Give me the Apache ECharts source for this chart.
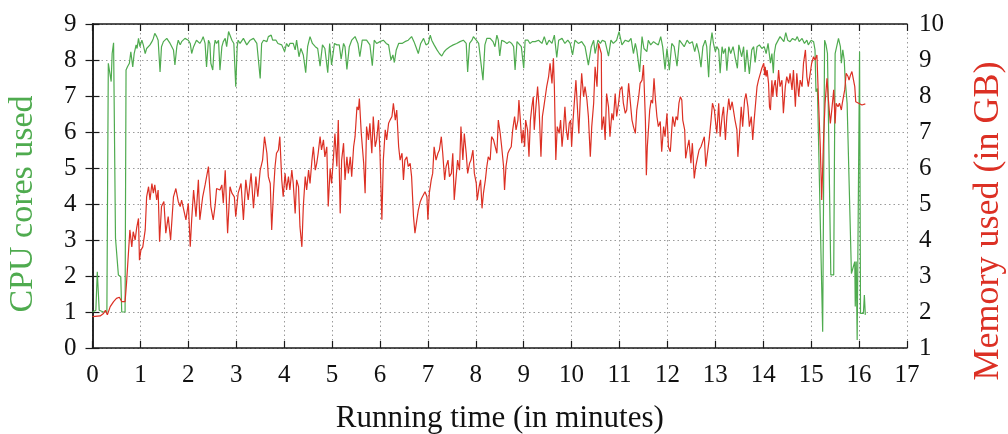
<!DOCTYPE html>
<html>
<head>
<meta charset="utf-8">
<script src="https://cdn.jsdelivr.net/npm/echarts@6/dist/echarts.min.js"></script>
<style>
html,body{margin:0;padding:0;background:#fff;}
#chart{width:1008px;height:434px;}
</style>
</head>
<body>
<div id="chart"></div>
<script>
// Axis ticks
const xTicks = [0,1,2,3,4,5,6,7,8,9,10,11,12,13,14,15,16,17];
const cpuTicks = [0,1,2,3,4,5,6,7,8,9];
const memTicks = [1,2,3,4,5,6,7,8,9,10];

// CPU cores used: [minutes, cores]
const cpuSamples = [
[0,1.0],[0.02,1.0],[0.07,1.05],[0.10,2.12],[0.12,2.12],[0.14,1.05],[0.23,1.0],[0.30,1.0],[0.33,7.91],[0.37,7.91],[0.39,7.40],[0.41,8.18],[0.44,8.48],[0.48,3.05],[0.51,3.0],[0.54,2.03],[0.59,1.98],[0.61,1.0],[0.68,1.0],
[0.70,7.72],[0.73,7.81],[0.77,7.91],[0.80,8.23],[0.84,7.81],[0.87,8.18],[0.91,8.42],[0.93,8.32],[0.96,8.60],[0.99,8.37],[1.03,8.55],[1.06,8.42],[1.10,8.18],[1.13,8.32],[1.17,8.28],[1.20,8.42],[1.24,8.51],[1.27,8.60],[1.30,8.74],[1.34,8.65],[1.37,8.55],[1.41,7.67],[1.44,8.37],[1.48,8.51],[1.51,8.46],[1.55,8.60],[1.58,8.55],[1.62,8.46],[1.65,8.42],[1.69,8.28],[1.72,7.86],[1.76,8.37],[1.79,8.55],[1.83,8.42],[1.86,8.51],[1.90,8.51],[1.93,8.60],[1.97,8.60],[2.00,8.55],[2.04,8.46],[2.07,8.18],[2.11,8.37],[2.14,8.46],[2.17,8.55],[2.21,8.51],[2.24,8.46],[2.28,8.55],[2.31,8.65],[2.35,8.46],[2.38,7.81],[2.42,8.55],[2.45,8.46],[2.47,7.91],[2.51,7.72],[2.54,8.37],[2.56,8.55],[2.59,8.46],[2.63,8.55],[2.66,7.72],[2.70,8.37],[2.73,8.51],[2.77,8.60],[2.80,8.37],[2.84,8.79],
[2.91,8.55],[2.95,8.46],[2.99,7.26],[3.02,8.37],[3.04,8.55],[3.08,8.46],[3.11,8.51],[3.15,8.60],[3.18,8.55],[3.22,8.42],[3.25,8.46],[3.29,8.55],[3.32,8.51],[3.36,8.60],[3.39,8.55],[3.43,8.46],[3.46,8.42],[3.50,7.49],[3.53,8.46],[3.57,8.55],[3.60,8.60],[3.64,8.51],[3.67,8.65],[3.73,8.69],[3.76,8.55],[3.80,8.51],[3.83,8.55],[3.87,8.46],[3.91,8.51],[3.95,8.42],[4.01,8.23],[4.05,8.46],[4.09,8.37],[4.12,8.46],[4.16,8.42],[4.19,8.46],[4.23,8.28],[4.26,8.55],[4.31,8.09],[4.35,8.32],[4.40,8.14],[4.45,7.65],[4.49,8.37],[4.54,8.65],[4.59,8.46],[4.65,8.37],[4.70,8.32],[4.75,7.83],[4.80,8.42],[4.85,8.32],[4.91,7.65],[4.95,8.46],[4.99,7.86],[5.05,8.46],[5.10,8.42],[5.15,8.42],[5.19,8.02],[5.24,8.46],[5.27,8.37],[5.31,7.74],[5.36,8.37],[5.41,8.55],[5.48,8.65],[5.54,8.46],[5.58,8.09],[5.63,8.55],
[5.72,8.55],[5.79,8.42],[5.84,7.84],[5.88,8.55],[5.93,8.46],[6.00,8.51],[6.07,8.55],[6.13,8.46],[6.18,8.42],[6.23,8.00],[6.27,8.14],[6.30,7.93],[6.34,8.28],[6.39,8.46],[6.46,8.46],[6.52,8.51],[6.59,8.55],[6.66,8.65],[6.71,8.51],[6.75,8.37],[6.80,8.18],[6.85,8.46],[6.91,8.60],[6.96,8.42],[7.01,8.46],[7.05,8.69],[7.08,8.55],[7.13,8.42],[7.19,8.28],[7.24,8.18],[7.29,8.11],[7.34,8.23],[7.39,8.30],[7.46,8.37],[7.53,8.42],[7.60,8.46],[7.67,8.51],[7.74,8.55],[7.80,8.46],[7.83,7.67],[7.87,8.46],[7.92,8.55],[7.95,8.65],[8.01,8.55],[8.06,8.46],[8.10,8.42],[8.15,7.44],[8.19,8.42],[8.23,8.60],[8.30,8.60],[8.36,8.51],[8.40,8.37],
[8.44,8.69],[8.47,8.55],[8.50,8.11],[8.54,8.55],[8.60,8.51],[8.65,8.46],[8.70,8.51],[8.75,8.46],[8.79,8.37],[8.82,7.72],[8.86,8.51],[8.90,8.55],[8.95,8.37],[9.00,7.77],[9.03,8.55],[9.09,8.55],[9.13,8.46],[9.18,8.51],[9.24,8.51],[9.31,8.55],[9.38,8.46],[9.43,8.65],[9.48,8.42],[9.53,8.55],[9.59,8.46],[9.64,8.69],[9.69,8.07],[9.73,8.55],[9.80,8.60],[9.86,8.46],[9.92,8.55],[9.97,8.46],[10.02,8.14],[10.07,8.55],[10.14,8.46],[10.21,8.51],[10.28,8.37],[10.35,7.86],[10.41,8.37],[10.46,8.55],[10.49,8.18],[10.55,8.55],[10.60,8.46],[10.64,8.55],[10.70,8.51],[10.77,8.11],[10.82,8.55],[10.87,8.46],[10.94,8.55],[10.99,8.79],[11.05,8.42],[11.12,8.55],[11.19,8.51],[11.24,8.60],[11.29,8.18],
[11.33,8.46],[11.36,8.28],[11.42,7.67],[11.47,8.65],[11.51,8.32],[11.57,8.23],[11.60,8.55],[11.65,8.42],[11.71,8.51],[11.76,8.46],[11.81,8.42],[11.86,8.65],[11.90,8.37],[11.95,7.74],[11.99,8.32],[12.04,7.72],[12.09,8.46],[12.14,8.37],[12.20,7.83],[12.25,8.55],[12.30,8.46],[12.35,8.37],[12.41,8.55],[12.46,8.46],[12.52,8.51],[12.57,8.23],[12.61,8.46],[12.66,8.18],[12.70,7.80],[12.74,8.37],[12.79,8.55],[12.82,8.37],[12.86,7.52],[12.89,8.37],[12.93,8.76],[12.96,8.46],[13.00,8.23],[13.03,8.37],[13.07,8.28],[13.10,7.63],[13.14,8.37],[13.17,8.18],[13.21,8.32],[13.24,7.70],[13.28,8.37],[13.32,8.18],[13.37,8.37],[13.41,8.09],[13.46,7.77],[13.49,8.42],[13.55,8.09],[13.59,8.37],[13.62,7.67],[13.66,8.28],[13.71,7.61],[13.76,8.28],[13.80,8.37],[13.83,7.93],[13.87,8.37],[13.92,8.42],[13.97,8.32],[14.02,8.37],
[14.06,8.18],[14.10,8.46],[14.12,8.42],[14.15,7.91],[14.18,8.18],[14.21,7.63],[14.23,8.18],[14.26,8.42],[14.30,8.46],[14.35,8.65],[14.39,8.60],[14.43,8.51],[14.47,8.76],[14.51,8.55],[14.56,8.51],[14.61,8.60],[14.67,8.55],[14.71,8.65],[14.75,8.51],[14.81,8.60],[14.86,8.46],[14.91,8.55],[14.94,8.42],[15.00,8.55],[15.05,8.51],[15.08,8.28],[15.10,7.12],[15.13,7.21],[15.24,0.45],[15.28,8.55],[15.31,8.42],[15.34,8.18],[15.41,2.03],[15.47,2.03],[15.50,8.18],[15.54,8.42],[15.57,8.60],[15.61,8.37],[15.63,7.91],[15.66,8.28],[15.69,8.00],[15.71,7.44],[15.75,6.80],[15.84,2.07],[15.88,2.07],[15.91,2.40],[15.92,1.15],[15.94,2.40],[15.96,0.22],[16.01,8.23],[16.03,0.96],[16.06,0.92],[16.09,0.96],[16.11,1.47],[16.13,0.92]
];

// Memory used (GB): [minutes, GB]
const memSamples = [
[0,1.87],[0.16,1.89],[0.23,1.96],[0.27,2.05],[0.31,1.92],[0.37,2.15],[0.44,2.29],[0.50,2.38],[0.56,2.41],[0.61,2.29],[0.68,2.29],[0.71,2.80],[0.75,3.63],[0.78,4.28],[0.82,3.81],[0.85,4.23],[0.89,4.00],[0.92,4.32],[0.96,4.60],[0.98,3.44],[1.01,3.72],[1.05,3.81],[1.10,4.28],[1.13,5.20],[1.17,5.48],[1.20,5.11],[1.24,5.57],[1.27,5.30],[1.30,5.53],[1.34,5.11],[1.37,5.39],[1.40,3.95],[1.44,4.93],[1.49,5.07],[1.53,4.19],[1.58,4.65],[1.63,4.00],[1.69,5.20],[1.74,5.43],[1.79,5.07],[1.83,4.93],[1.86,5.11],[1.90,5.16],[1.95,4.56],[2.00,5.02],[2.04,3.81],[2.07,4.56],[2.11,5.39],[2.16,4.65],[2.21,5.67],[2.24,4.56],[2.30,5.20],[2.35,5.53],[2.38,5.57],[2.42,6.04],[2.47,4.93],[2.52,4.56],[2.56,4.97],[2.59,5.43],[2.63,5.48],[2.66,5.39],[2.70,5.53],[2.73,5.02],
[2.77,5.94],[2.82,4.19],[2.87,5.48],[2.91,5.30],[2.96,5.20],[2.99,4.65],[3.04,5.30],[3.10,5.57],[3.15,4.56],[3.20,5.67],[3.25,5.11],[3.31,5.85],[3.36,4.88],[3.41,5.76],[3.45,5.20],[3.50,5.94],[3.55,6.22],[3.59,6.87],[3.62,6.92],[3.64,6.41],[3.67,5.76],[3.71,5.57],[3.74,4.28],[3.78,5.39],[3.81,6.04],[3.84,6.41],[3.88,6.50],[3.91,6.87],[3.95,5.67],[3.98,5.20],[4.02,5.85],[4.05,5.39],[4.09,5.76],[4.12,5.39],[4.16,5.94],[4.19,5.57],[4.23,4.74],[4.26,5.67],[4.30,5.48],[4.33,4.37],[4.37,3.81],[4.40,4.93],[4.44,5.76],[4.47,5.39],[4.51,5.94],[4.54,5.57],[4.58,6.22],[4.61,6.59],[4.65,5.94],[4.68,6.13],[4.71,6.41],[4.75,6.87],[4.78,6.50],[4.82,6.78],[4.85,6.31],[4.89,6.59],[4.92,4.93],[4.96,5.99],[4.99,5.57],[5.03,6.31],[5.06,6.96],[5.10,6.04],[5.13,7.33],[5.17,4.74],[5.20,6.22],[5.24,6.69],[5.27,5.67],[5.31,6.31],[5.34,5.85],[5.38,6.31],[5.41,5.76],[5.45,6.59],[5.48,6.87],[5.52,7.70],[5.55,7.61],[5.57,7.93],[5.61,6.96],
[5.66,6.13],[5.69,5.30],[5.72,7.15],[5.76,6.78],[5.79,7.24],[5.83,6.41],[5.86,7.43],[5.90,6.59],[5.93,6.78],[5.97,7.33],[6.00,6.41],[6.04,4.56],[6.07,6.22],[6.11,7.06],[6.14,6.78],[6.18,7.24],[6.21,7.33],[6.25,7.43],[6.28,7.80],[6.32,7.33],[6.35,7.61],[6.39,6.59],[6.42,6.22],[6.46,6.41],[6.49,5.67],[6.52,6.22],[6.56,6.31],[6.59,6.04],[6.63,6.13],[6.66,5.76],[6.70,4.65],[6.73,4.19],[6.77,4.56],[6.80,4.83],[6.84,5.06],[6.87,5.16],[6.91,5.11],[6.94,5.34],[6.98,5.20],[7.00,4.56],[7.03,5.30],[7.07,5.67],[7.10,5.85],[7.13,6.59],[7.17,6.22],[7.21,6.41],[7.24,6.50],[7.28,6.87],[7.31,6.41],[7.35,5.67],[7.38,6.04],[7.42,6.22],[7.45,5.76],[7.49,5.85],[7.52,6.41],[7.55,5.11],[7.59,5.76],[7.62,6.22],[7.66,5.94],[7.69,7.15],[7.73,6.22],[7.76,6.96],[7.80,6.41],[7.83,5.85],[7.87,6.13],[7.90,6.22],[7.94,6.50],[7.97,5.85],[8.01,5.57],[8.03,5.11],[8.07,5.48],[8.10,5.67],[8.13,4.88],[8.16,5.30],[8.20,5.67],[8.23,6.04],[8.26,6.31],[8.30,6.22],[8.33,6.87],[8.37,6.78],
[8.44,6.41],[8.47,7.33],[8.51,6.96],[8.54,6.59],[8.58,6.04],[8.60,5.39],[8.63,6.04],[8.67,6.41],[8.70,6.50],[8.74,6.59],[8.77,7.06],[8.81,7.43],[8.84,7.06],[8.88,7.33],[8.90,7.89],[8.93,7.33],[8.96,6.69],[8.99,7.06],[9.02,6.59],[9.04,7.33],[9.08,7.06],[9.11,6.31],[9.14,7.33],[9.17,7.70],[9.20,7.98],[9.22,7.06],[9.25,7.61],[9.29,8.26],[9.32,7.70],[9.36,6.31],[9.39,7.43],[9.42,7.70],[9.45,7.98],[9.48,8.26],[9.52,8.54],[9.55,8.91],[9.59,8.35],[9.62,9.05],[9.64,8.26],[9.67,6.22],[9.70,7.15],[9.74,6.96],[9.77,7.33],[9.80,6.59],[9.83,7.06],[9.86,7.70],[9.89,7.06],[9.92,6.78],[9.95,7.24],[9.98,7.33],[10.00,6.59],[10.03,7.33],[10.06,7.89],[10.09,8.44],[10.12,7.70],[10.15,6.96],[10.18,7.89],[10.21,8.63],[10.25,7.98],[10.28,8.26],[10.32,7.89],[10.35,7.43],[10.39,6.31],[10.42,7.15],[10.46,7.80],[10.49,8.81],[10.53,8.26],[10.56,9.46],[10.60,9.51],[10.62,9.18],[10.63,7.06],[10.67,7.43],[10.70,6.78],[10.73,8.07],[10.77,7.70],[10.80,6.87],[10.84,7.52],[10.87,7.33],[10.91,8.07],[10.94,7.43],[10.98,7.80],[11.01,8.17],[11.05,8.26],[11.08,7.80],[11.12,7.52],[11.15,7.61],[11.19,8.35],
[11.26,7.33],[11.29,7.15],[11.33,6.96],[11.36,7.61],[11.40,7.98],[11.43,8.35],[11.47,8.44],[11.50,8.86],[11.54,7.33],[11.56,5.80],[11.58,6.59],[11.63,7.61],[11.66,7.89],[11.69,7.80],[11.72,8.49],[11.75,7.89],[11.78,7.43],[11.81,7.15],[11.85,7.29],[11.88,6.45],[11.92,7.15],[11.95,6.87],[11.99,7.52],[12.02,6.59],[12.06,6.45],[12.09,7.06],[12.11,7.43],[12.15,7.15],[12.18,7.43],[12.21,7.33],[12.24,7.80],[12.27,7.98],[12.30,7.89],[12.32,7.33],[12.36,7.06],[12.38,6.27],[12.42,6.59],[12.45,6.78],[12.49,6.13],[12.52,6.69],[12.56,5.71],[12.59,6.04],[12.63,6.31],[12.66,6.50],[12.70,6.59],[12.73,6.64],[12.77,6.87],[12.80,6.04],[12.84,6.04],[12.87,6.78],[12.91,7.33],[12.94,7.80],[12.98,7.61],[13.00,7.33],[13.03,6.96],[13.07,7.80],[13.10,6.87],[13.14,7.43],[13.17,7.70],[13.21,6.78],[13.24,7.43],[13.28,7.93],[13.31,7.61],[13.35,7.84],[13.38,7.80],[13.41,7.33],[13.45,7.06],[13.47,6.31],[13.51,7.06],[13.54,7.70],[13.57,7.15],[13.61,7.89],[13.64,8.07],[13.68,7.70],[13.71,7.15],[13.75,7.43],[13.78,6.78],[13.81,7.33],[13.84,7.80],[13.87,8.26],[13.90,8.44],[13.94,8.63],[13.97,8.77],[14.01,8.91],[14.03,8.58],
[14.04,8.81],[14.06,8.54],[14.08,8.72],[14.11,8.35],[14.13,7.70],[14.15,7.61],[14.18,8.44],[14.20,7.98],[14.22,8.26],[14.25,8.44],[14.28,7.98],[14.32,8.72],[14.35,8.26],[14.39,8.44],[14.42,7.52],[14.46,8.26],[14.49,8.54],[14.53,8.35],[14.56,8.63],[14.60,8.17],[14.63,8.72],[14.67,7.70],[14.70,8.63],[14.74,7.98],[14.77,8.44],[14.81,8.26],[14.84,8.91],[14.88,9.28],[14.91,8.54],[14.94,8.26],[14.98,8.30],[15.01,8.91],[15.05,9.09],[15.08,9.00],[15.12,9.14],[15.15,7.98],[15.19,6.59],[15.22,5.11],[15.26,6.87],[15.29,7.80],[15.33,8.49],[15.36,7.89],[15.40,7.24],[15.43,7.61],[15.47,8.17],[15.50,7.24],[15.52,7.80],[15.56,7.70],[15.59,7.80],[15.63,7.61],[15.65,7.80],[15.70,8.17],[15.73,8.63],[15.77,8.54],[15.79,8.44],[15.82,8.58],[15.85,8.68],[15.88,8.72],[15.91,8.26],[15.93,7.84],[15.99,7.80],[16.06,7.75],[16.13,7.78]
];

const GREEN = '#4fab4f';
const RED = '#dc3024';
const FONT = 'Liberation Serif';

const chart = echarts.init(document.getElementById('chart'), null, {renderer: 'canvas'});
const axisLineStyle = {color: '#1a1a1a', width: 1.5};
const tickStyle = {show: true, inside: true, length: 7, lineStyle: {color: '#1a1a1a', width: 1.2}};
const gridLine = {show: true, lineStyle: {color: '#9a9a9a', type: [1.5, 3], width: 1}};

chart.setOption({
  animation: false,
  backgroundColor: '#ffffff',
  grid: {left: 92.5, right: 101, top: 24, bottom: 86, containLabel: false, outerBoundsMode: 'none'},
  xAxis: [{
    type: 'value', position: 'bottom',
    min: xTicks[0], max: xTicks[xTicks.length - 1], interval: 1,
    name: 'Running time (in minutes)', nameLocation: 'middle', nameGap: 55,
    nameTextStyle: {fontFamily: FONT, fontSize: 31, color: '#111'},
    axisLine: {show: true, lineStyle: axisLineStyle},
    axisTick: tickStyle,
    axisLabel: {fontFamily: FONT, fontSize: 25, color: '#111', margin: 15},
    splitLine: gridLine
  }, {
    type: 'value', position: 'top',
    min: xTicks[0], max: xTicks[xTicks.length - 1], interval: 1,
    axisLine: {show: true, lineStyle: axisLineStyle},
    axisTick: tickStyle,
    axisLabel: {show: false},
    splitLine: {show: false}
  }],
  yAxis: [{
    type: 'value', position: 'left',
    min: cpuTicks[0], max: cpuTicks[cpuTicks.length - 1], interval: 1,
    name: 'CPU cores used', nameLocation: 'middle', nameGap: 52, nameRotate: 90,
    nameTextStyle: {fontFamily: FONT, fontSize: 34, color: GREEN, padding: [0, 36, 0, 0]},
    axisLine: {show: true, lineStyle: axisLineStyle},
    axisTick: tickStyle,
    axisLabel: {fontFamily: FONT, fontSize: 25, color: '#111', margin: 16},
    splitLine: gridLine
  }, {
    type: 'value', position: 'right',
    min: memTicks[0], max: memTicks[memTicks.length - 1], interval: 1,
    name: 'Memory used (in GB)', nameLocation: 'middle', nameGap: 64, nameRotate: 90,
    nameTextStyle: {fontFamily: FONT, fontSize: 36, color: RED, padding: [0, 70, 0, 0]},
    axisLine: {show: true, lineStyle: axisLineStyle},
    axisTick: tickStyle,
    axisLabel: {fontFamily: FONT, fontSize: 25, color: '#111', margin: 12},
    splitLine: {show: false}
  }],
  series: [{
    name: 'CPU', type: 'line', xAxisIndex: 0, yAxisIndex: 0,
    data: cpuSamples, showSymbol: false, symbol: 'none',
    lineStyle: {color: GREEN, width: 1.2}, z: 2
  }, {
    name: 'Memory', type: 'line', xAxisIndex: 0, yAxisIndex: 1,
    data: memSamples, showSymbol: false, symbol: 'none',
    lineStyle: {color: RED, width: 1.2}, z: 3
  }]
});
</script>
</body>
</html>
